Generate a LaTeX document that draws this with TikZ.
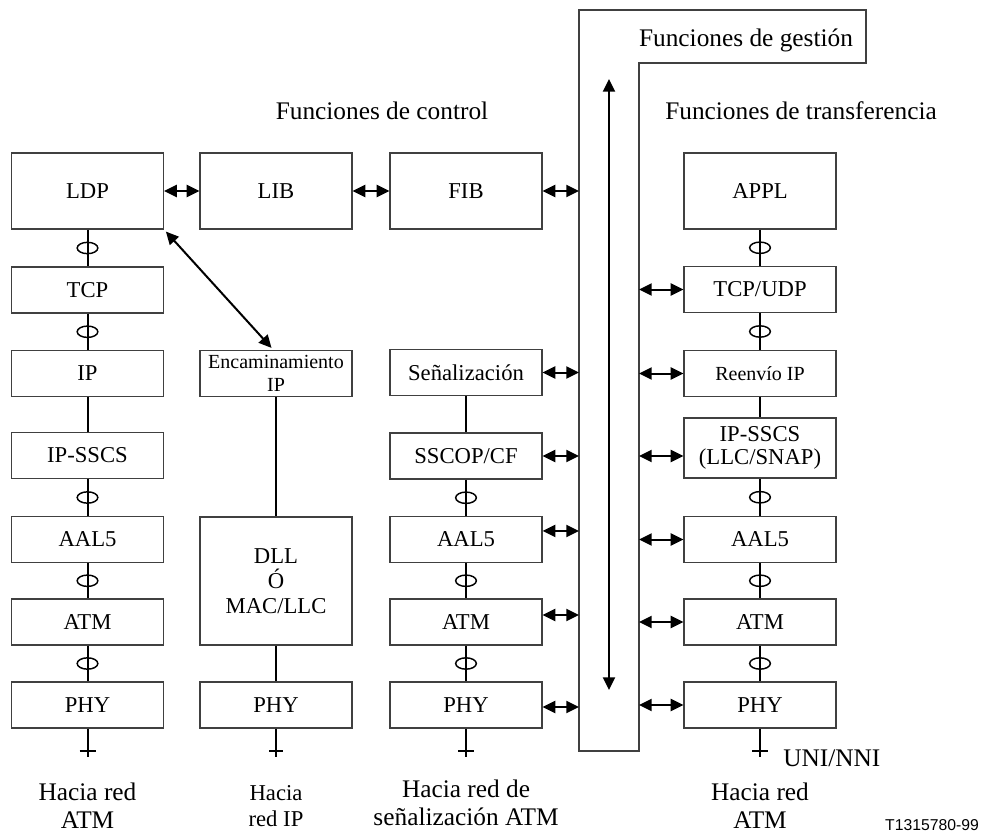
\documentclass[tikz,border=0pt]{standalone}
\usepackage{fontspec}
\setmainfont{Liberation Serif}
\newfontfamily\arialfont{Liberation Sans}
\usetikzlibrary{arrows.meta,shapes.geometric}

\newcommand\bxfont{\fontsize{17}{18.75}\selectfont}
\newcommand\smfont{\fontsize{15}{17}\selectfont}
\newcommand\ttlfont{\fontsize{19}{21}\selectfont}

\tikzset{
  blk/.style={draw=black!75, line width=0.9pt, inner sep=0pt,
    minimum width=114pt, minimum height=34.5pt, align=center, font=\bxfont},
  tallblk/.style={blk, minimum height=57pt},
  conn/.style={line width=1.5pt},
  biarrow/.style={line width=1.5pt,
    {Triangle[length=9.5pt,width=9pt]}-{Triangle[length=9.5pt,width=9pt]}},
  ring/.style={draw, ellipse, line width=1.1pt, minimum width=15.5pt,
    minimum height=8.5pt, inner sep=0pt},
  panel/.style={draw=black!75, line width=0.9pt},
  ttl/.style={font=\ttlfont, inner sep=0pt, align=center},
}

\begin{document}
\begin{tikzpicture}[x=0.75pt,y=-0.75pt]
\useasboundingbox (0,0) rectangle (981,834);

% management panel
\draw[panel] (579,10) coordinate (pA) -- (866,10) -- (866,63) -- (639,63) coordinate (pB)
  -- (639,751) -- (579,751) -- cycle;
\node[ttl, anchor=base] (tgest) at (746,47) {Funciones de gestión};
\coordinate (vt) at (609,79);
\coordinate (vb) at (609,690);
\draw[biarrow] (vt) -- (vb);

% titles
\node[ttl, anchor=base] (tctrl) at (382,120) {Funciones de control};
\node[ttl, anchor=base] (ttrans) at (801,120) {Funciones de transferencia};

% column 1: LDP stack
\node[tallblk] (ldp)  at (87.5,191)   {LDP};
\node[blk]     (tcp1) at (87.5,290)   {TCP};
\node[blk]     (ip1)  at (87.5,373.5) {IP};
\node[blk]     (ssc1) at (87.5,455.5) {IP-SSCS};
\node[blk]     (aal1) at (87.5,539.5) {AAL5};
\node[blk]     (atm1) at (87.5,622)   {ATM};
\node[blk]     (phy1) at (87.5,705)   {PHY};

% column 2: IP routing stack
\node[tallblk] (lib)  at (276,191)   {LIB};
\node[blk, font=\smfont] (enc) at (276,373.5) {Encaminamiento\\IP};
\node[blk, minimum height=96pt] (dll) at (276,581) {DLL\\Ó\\MAC/LLC};
\node[blk]     (phy2) at (276,705)   {PHY};

% column 3: signalling stack
\node[tallblk] (fib)  at (466,191)   {FIB};
\node[blk]     (sig)  at (466,372.5) {Señalización};
\node[blk]     (ssco) at (466,456)   {SSCOP/CF};
\node[blk]     (aal3) at (466,539.5) {AAL5};
\node[blk]     (atm3) at (466,622)   {ATM};
\node[blk]     (phy3) at (466,705)   {PHY};

% column 4: transfer stack
\node[tallblk] (appl) at (760,191)   {APPL};
\node[blk]     (tcpu) at (760,289.5) {TCP/UDP};
\node[blk, font=\smfont] (fwd) at (760,373.5) {Reenvío IP};
\node[blk, minimum height=45pt, font=\fontsize{17}{17.25}\selectfont] (ssc4) at (760,448) {IP-SSCS\\(LLC/SNAP)};
\node[blk]     (aal4) at (760,539.5) {AAL5};
\node[blk]     (atm4) at (760,622)   {ATM};
\node[blk]     (phy4) at (760,705)   {PHY};

% vertical links, column 1
\draw[conn] (ldp.south)  -- (tcp1.north) node[ring, midway] {};
\draw[conn] (tcp1.south) -- (ip1.north)  node[ring, midway] {};
\draw[conn] (ip1.south)  -- (ssc1.north);
\draw[conn] (ssc1.south) -- (aal1.north) node[ring, midway] {};
\draw[conn] (aal1.south) -- (atm1.north) node[ring, midway] {};
\draw[conn] (atm1.south) -- (phy1.north) node[ring, midway] {};

% vertical links, column 2
\draw[conn] (enc.south) -- (dll.north);
\draw[conn] (dll.south) -- (phy2.north);

% vertical links, column 3
\draw[conn] (sig.south)  -- (ssco.north);
\draw[conn] (ssco.south) -- (aal3.north) node[ring, midway] {};
\draw[conn] (aal3.south) -- (atm3.north) node[ring, midway] {};
\draw[conn] (atm3.south) -- (phy3.north) node[ring, midway] {};

% vertical links, column 4
\draw[conn] (appl.south) -- (tcpu.north) node[ring, midway] {};
\draw[conn] (tcpu.south) -- (fwd.north)  node[ring, midway] {};
\draw[conn] (fwd.south)  -- (ssc4.north);
\draw[conn] (ssc4.south) -- (aal4.north) node[ring, midway] {};
\draw[conn] (aal4.south) -- (atm4.north) node[ring, midway] {};
\draw[conn] (atm4.south) -- (phy4.north) node[ring, midway] {};

% network access points
\foreach \p/\h in {phy1/6pt, phy2/5.25pt, phy3/6pt, phy4/6pt}{
  \coordinate (\p-end) at (\p.south |- 0,757);
  \coordinate (\p-bar) at (\p.south |- 0,751);
  \draw[conn] (\p.south) -- (\p-end);
  \draw[conn] ([xshift=-\h]\p-bar) -- ([xshift=\h]\p-bar);
}

% horizontal exchanges in the control plane
\draw[biarrow] (ldp.east) -- (lib.west);
\draw[biarrow] (lib.east) -- (fib.west);
\draw[biarrow] (fib.east) -- (fib.east -| pA);
\draw[biarrow, shorten <=2pt, shorten >=2pt] (ldp.south east) -- ([xshift=-2pt]enc.north);

% exchanges with management functions
\draw[biarrow] (sig.east)  -- (sig.east -| pA);
\draw[biarrow] (ssco.east) -- (ssco.east -| pA);
\draw[biarrow] ([yshift=6.4pt]aal3.east) -- ([yshift=6.4pt]aal3.east -| pA);
\draw[biarrow] ([yshift=5.25pt]atm3.east) -- ([yshift=5.25pt]atm3.east -| pA);
\draw[biarrow] ([yshift=-1.5pt]phy3.east) -- ([yshift=-1.5pt]phy3.east -| pA);

\draw[biarrow] (tcpu.west -| pB) -- (tcpu.west);
\draw[biarrow] (fwd.west -| pB)  -- (fwd.west);
\draw[biarrow] ([yshift=-6pt]ssc4.west -| pB) -- ([yshift=-6pt]ssc4.west);
\draw[biarrow] (aal4.west -| pB) -- (aal4.west);
\draw[biarrow] (atm4.west -| pB) -- (atm4.west);
\draw[biarrow] (phy4.west -| pB) -- (phy4.west);

% bottom labels
\node[ttl] (n1) at (87.5,806) {Hacia red\\ATM};
\node[blk, draw=none, font=\fontsize{17}{20}\selectfont, minimum height=0pt] (n2) at (276,806) {Hacia\\red IP};
\node[ttl] (n3) at (466,803) {Hacia red de\\señalización ATM};
\node[ttl] (n4) at (760,806) {Hacia red\\ATM};
\node[ttl, anchor=west] (uni) at (783,758) {UNI/NNI};
\node[font=\arialfont\fontsize{11.8}{13}\selectfont, inner sep=0pt] (fig) at (932,825) {T1315780-99};

\end{tikzpicture}
\end{document}
